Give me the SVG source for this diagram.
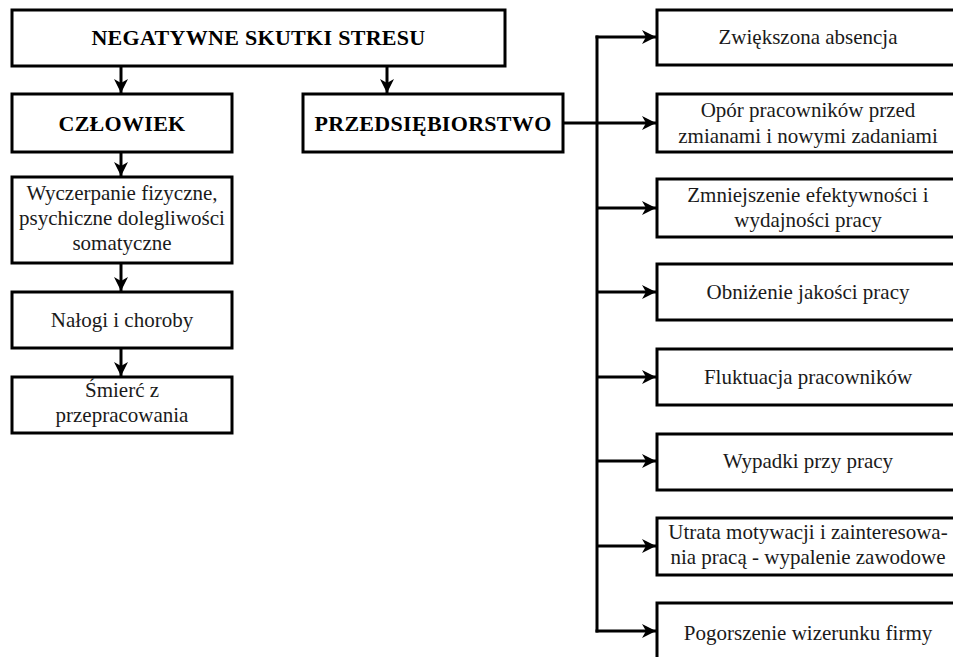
<svg xmlns="http://www.w3.org/2000/svg" width="953" height="657" viewBox="0 0 953 657">
<defs>
<style>
.box{fill:#fff;stroke:#000;stroke-width:3}
.t{font-family:"Liberation Serif","Times New Roman",serif;font-size:21px;fill:#1a1a1a;text-anchor:middle}
.b{font-weight:bold;fill:#000;font-size:22px;letter-spacing:0.3px}
.c{stroke:#000;stroke-width:3;fill:none}
</style>
<marker id="ah" markerUnits="userSpaceOnUse" viewBox="0 0 14 14" markerWidth="14" markerHeight="14" refX="14" refY="7" orient="auto">
<path d="M0,0 L14,7 L0,14 L4,7 z" fill="#000"/>
</marker>
</defs>
<rect x="0" y="0" width="953" height="657" fill="#fff"/>

<g id="connectors">
<line class="c" x1="121" y1="66" x2="121" y2="93" marker-end="url(#ah)"/>
<line class="c" x1="387" y1="66" x2="387" y2="93" marker-end="url(#ah)"/>
<line class="c" x1="121" y1="152" x2="121" y2="176" marker-end="url(#ah)"/>
<line class="c" x1="121" y1="263" x2="121" y2="291" marker-end="url(#ah)"/>
<line class="c" x1="121" y1="348" x2="121" y2="376" marker-end="url(#ah)"/>
<line class="c" x1="563" y1="123" x2="597" y2="123"/>
<line class="c" x1="597" y1="35.5" x2="597" y2="632.5"/>
<line class="c" x1="595.5" y1="37" x2="656" y2="37" marker-end="url(#ah)"/>
<line class="c" x1="597" y1="123" x2="656" y2="123" marker-end="url(#ah)"/>
<line class="c" x1="597" y1="208" x2="656" y2="208" marker-end="url(#ah)"/>
<line class="c" x1="597" y1="292" x2="656" y2="292" marker-end="url(#ah)"/>
<line class="c" x1="597" y1="377" x2="656" y2="377" marker-end="url(#ah)"/>
<line class="c" x1="597" y1="461" x2="656" y2="461" marker-end="url(#ah)"/>
<line class="c" x1="597" y1="546" x2="656" y2="546" marker-end="url(#ah)"/>
<line class="c" x1="595.5" y1="631" x2="656" y2="631" marker-end="url(#ah)"/>
</g>

<g id="n-root">
<rect class="box" x="12" y="10" width="493" height="56"/>
<text class="t b" x="258.5" y="45">NEGATYWNE SKUTKI STRESU</text>
</g>
<g id="n-czlowiek">
<rect class="box" x="12" y="94" width="220" height="58"/>
<text class="t b" x="122" y="131">CZŁOWIEK</text>
</g>
<g id="n-przedsiebiorstwo">
<rect class="box" x="303" y="94" width="260" height="58"/>
<text class="t b" x="433" y="131">PRZEDSIĘBIORSTWO</text>
</g>
<g id="n-wyczerpanie">
<rect class="box" x="12" y="177" width="220" height="86"/>
<text class="t" x="122" y="200">Wyczerpanie fizyczne,</text>
<text class="t" x="122" y="225">psychiczne dolegliwości</text>
<text class="t" x="122" y="250">somatyczne</text>
</g>
<g id="n-nalogi">
<rect class="box" x="12" y="292" width="220" height="56"/>
<text class="t" x="122" y="327">Nałogi i choroby</text>
</g>
<g id="n-smierc">
<rect class="box" x="12" y="377" width="220" height="56"/>
<text class="t" x="122" y="397">Śmierć z</text>
<text class="t" x="122" y="422">przepracowania</text>
</g>

<g id="n-absencja">
<rect class="box" x="657" y="10" width="310" height="55"/>
<text class="t" x="808" y="44">Zwiększona absencja</text>
</g>
<g id="n-opor">
<rect class="box" x="657" y="94" width="310" height="58"/>
<text class="t" x="808" y="117">Opór pracowników przed</text>
<text class="t" x="808" y="143">zmianami i nowymi zadaniami</text>
</g>
<g id="n-efektywnosc">
<rect class="box" x="657" y="179" width="310" height="58"/>
<text class="t" x="808" y="202">Zmniejszenie efektywności i</text>
<text class="t" x="808" y="227">wydajności pracy</text>
</g>
<g id="n-jakosc">
<rect class="box" x="657" y="264" width="310" height="56"/>
<text class="t" x="808" y="299">Obniżenie jakości pracy</text>
</g>
<g id="n-fluktuacja">
<rect class="box" x="657" y="349" width="310" height="56"/>
<text class="t" x="808" y="384">Fluktuacja pracowników</text>
</g>
<g id="n-wypadki">
<rect class="box" x="657" y="434" width="310" height="56"/>
<text class="t" x="808" y="468">Wypadki przy pracy</text>
</g>
<g id="n-motywacja">
<rect class="box" x="657" y="518" width="310" height="57"/>
<text class="t" x="808" y="539">Utrata motywacji i zainteresowa-</text>
<text class="t" x="808" y="564">nia pracą - wypalenie zawodowe</text>
</g>
<g id="n-wizerunek">
<rect class="box" x="657" y="603" width="310" height="70"/>
<text class="t" x="808" y="640">Pogorszenie wizerunku firmy</text>
</g>
</svg>
